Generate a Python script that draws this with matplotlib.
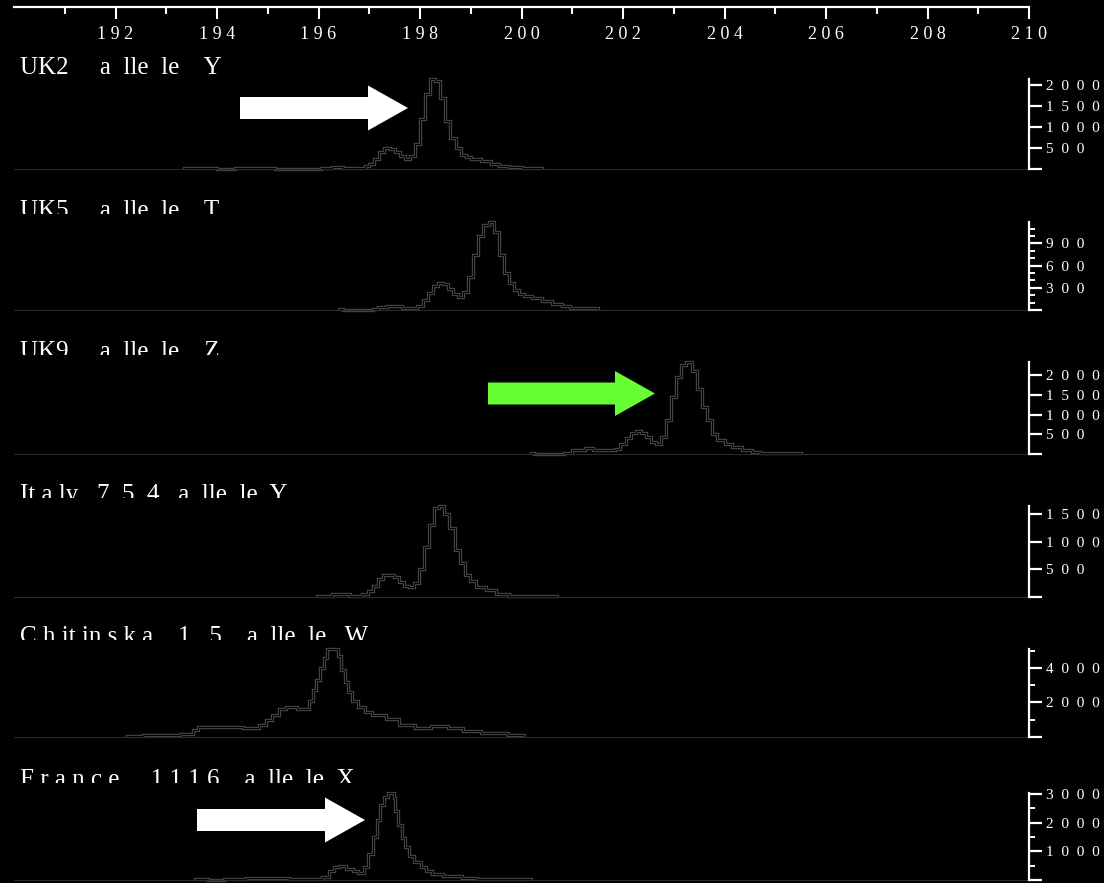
import matplotlib
matplotlib.use("Agg")
import matplotlib.pyplot as plt
import matplotlib.patheffects as pe
from matplotlib.patches import Polygon

# ---- data (size in bp, peak height in rfu) ----
uk2_edges = [193.35, 194.0, 194.35, 195.15, 196.05, 196.27, 196.49, 196.92, 197.0, 197.1, 197.2, 197.3,
             197.4, 197.5, 197.6, 197.7, 197.8, 197.9, 198.0, 198.1, 198.2, 198.3, 198.4, 198.5, 198.6,
             198.7, 198.8, 198.9, 199.0, 199.2, 199.4, 199.55, 199.75, 200.0, 200.4]
uk2_counts = [25, 0, 25, 0, 20, 50, 25, 60, 130, 250, 400, 500, 480, 400, 320, 250, 300, 600, 1200,
              1800, 2150, 2100, 1700, 1150, 750, 500, 340, 280, 240, 190, 130, 80, 50, 30]

uk5_edges = [196.41, 196.49, 197.08, 197.18, 197.34, 197.65, 197.95, 198.05, 198.15, 198.25, 198.35,
             198.45, 198.55, 198.65, 198.75, 198.85, 198.95, 199.05, 199.15, 199.25, 199.35, 199.45,
             199.55, 199.65, 199.75, 199.85, 199.95, 200.05, 200.2, 200.4, 200.6, 200.8, 200.95, 201.5]
uk5_counts = [15, 0, 15, 40, 60, 30, 60, 130, 230, 320, 370, 350, 290, 220, 180, 250, 450, 750, 1000,
              1150, 1190, 1050, 750, 500, 370, 270, 210, 185, 160, 120, 75, 50, 30]

uk9_edges = [200.18, 200.24, 200.83, 200.99, 201.26, 201.40, 201.85, 201.95, 202.05, 202.15, 202.25,
             202.35, 202.45, 202.55, 202.65, 202.75, 202.85, 202.95, 203.05, 203.15, 203.25, 203.35,
             203.45, 203.55, 203.65, 203.75, 203.85, 204.0, 204.15, 204.35, 204.55, 204.7, 205.5]
uk9_counts = [25, 0, 35, 90, 140, 90, 130, 260, 400, 520, 580, 540, 430, 300, 250, 420, 850, 1450,
              1950, 2250, 2330, 2100, 1650, 1200, 850, 500, 350, 260, 170, 100, 55, 25]

italy_edges = [195.98, 196.27, 196.63, 196.86, 196.98, 197.08, 197.18, 197.28, 197.38, 197.48, 197.58,
               197.68, 197.78, 197.88, 197.98, 198.08, 198.18, 198.28, 198.38, 198.48, 198.58, 198.68,
               198.78, 198.88, 198.98, 199.1, 199.3, 199.5, 199.75, 200.7]
italy_counts = [25, 60, 25, 60, 110, 200, 320, 390, 400, 360, 280, 200, 180, 260, 500, 900, 1300, 1620,
                1650, 1500, 1250, 850, 620, 400, 290, 180, 120, 60, 25]

chit_edges = [192.22, 192.54, 193.28, 193.53, 193.63, 194.51, 194.83, 194.97, 195.08, 195.22, 195.36,
              195.57, 195.75, 195.82, 195.89, 195.96, 196.03, 196.10, 196.17, 196.38, 196.45, 196.52,
              196.59, 196.66, 196.77, 196.91, 197.05, 197.33, 197.58, 197.90, 198.21, 198.56, 198.85,
              199.20, 199.73, 200.04]
chit_counts = [60, 115, 190, 400, 560, 500, 700, 1000, 1300, 1600, 1750, 1650, 1600, 2100, 2700, 3300,
               4000, 4600, 5100, 4700, 3900, 3200, 2600, 2100, 1750, 1450, 1250, 1050, 700, 550, 620,
               540, 330, 230, 100]

france_edges = [193.57, 193.83, 194.14, 194.58, 195.42, 196.06, 196.21, 196.31, 196.41, 196.54, 196.67,
                196.77, 196.90, 196.98, 197.08, 197.16, 197.22, 197.30, 197.36, 197.48, 197.51, 197.57,
                197.65, 197.71, 197.79, 197.89, 198.01, 198.11, 198.24, 198.46, 198.82, 199.13, 200.18]
france_counts = [35, 0, 35, 70, 35, 100, 300, 450, 480, 400, 300, 240, 450, 900, 1500, 2100, 2600, 2900,
                 3030, 2850, 2400, 1900, 1450, 1150, 850, 620, 440, 320, 210, 130, 75, 35]

labels = ["UK2     a  lle  le    Y", "UK5     a  lle  le    T", "UK9     a  lle  le    Z",
          "It a ly   7  5  4   a  lle  le  Y", "C h it in s k a    1   5    a  lle  le   W",
          "F r a n c e     1 1 1 6    a  lle  le  X"]
major_ticks = [[0, 500, 1000, 1500, 2000], [0, 300, 600, 900], [0, 500, 1000, 1500, 2000],
               [0, 500, 1000, 1500], [0, 2000, 4000], [0, 1000, 2000, 3000]]
minor_ticks = [[], [100, 200, 400, 500, 700, 800, 1000, 1100], [], [], [1000, 3000, 5000], [500, 1500, 2500]]
size_major = [192, 194, 196, 198, 200, 202, 204, 206, 208, 210]
size_minor = [191, 193, 195, 197, 199, 201, 203, 205, 207, 209]

edges_all = [uk2_edges, uk5_edges, uk9_edges, italy_edges, chit_edges, france_edges]
counts_all = [uk2_counts, uk5_counts, uk9_counts, italy_counts, chit_counts, france_counts]

# ---- layout in pixels ----
W, H = 1104, 883
SERIF = "Liberation Serif"
base_px = [169, 310, 454, 597, 737, 880]
top_px = [79, 222, 362, 506, 649, 793]
label_base = [74, 217, 358, 501, 643, 786]
label_clip = [100, 214, 355, 498, 640, 783]


def fx(px):
    return px / W


def fy(py):
    return 1 - py / H


def spaced(v, sep=" "):
    return sep.join(str(int(round(v))))


fig = plt.figure(figsize=(W / 100, H / 100), dpi=100, facecolor="black")

# top size axis
axx = fig.add_axes([fx(14), fy(7), fx(1029) - fx(14), 0.0001])
axx.set_facecolor("none")
axx.set_xlim(190, 210)
for s in ["top", "left", "right"]:
    axx.spines[s].set_visible(False)
axx.spines["bottom"].set_color("white")
axx.spines["bottom"].set_linewidth(1.6)
axx.set_yticks([])
axx.set_xticks(size_major)
axx.set_xticklabels([spaced(v) for v in size_major], family=SERIF, fontsize=13)
axx.set_xticks(size_minor, minor=True)
axx.tick_params(axis="x", which="major", direction="out", length=8.5, width=1.5, colors="white", pad=5.5)
axx.tick_params(axis="x", which="minor", direction="out", length=5, width=1.5, colors="white")

# panels
for i in range(6):
    b, t = base_px[i], top_px[i]
    ax = fig.add_axes([fx(14), fy(b), fx(1029) - fx(14), (b - t) / H])
    ax.set_facecolor("none")
    ax.set_xlim(190, 210)
    ax.set_ylim(0, max(counts_all[i]))
    for s in ["top", "left", "bottom"]:
        ax.spines[s].set_visible(False)
    ax.spines["right"].set_color("white")
    ax.spines["right"].set_linewidth(1.6)
    ax.xaxis.set_visible(False)
    ax.yaxis.tick_right()
    ax.set_yticks(major_ticks[i])
    ax.set_yticklabels([spaced(v, "  ") if v > 0 else "" for v in major_ticks[i]],
                       family=SERIF, fontsize=11)
    ax.set_yticks(minor_ticks[i], minor=True)
    ax.tick_params(axis="y", which="major", direction="out", length=9.5, width=1.6, colors="white", pad=3)
    ax.tick_params(axis="y", which="minor", direction="out", length=4, width=1.4, colors="white")
    ax.axhline(0, color="#2a2a2a", lw=0.8, clip_on=False)
    ax.stairs(counts_all[i], edges_all[i], color="#464646", lw=2.4, clip_on=False,
              path_effects=[pe.Stroke(linewidth=2.4, foreground="#464646"),
                            pe.Stroke(linewidth=0.8, foreground="black")])

# sample labels (lower part hidden by the panel below, as in the source)
for i in range(6):
    c = label_clip[i]
    tax = fig.add_axes([0, fy(c), 1, 70 / H])
    tax.axis("off")
    tax.text(fx(20), fy(label_base[i]), labels[i], transform=fig.transFigure, family=SERIF,
             fontsize=18, color="white", ha="left", va="baseline", clip_on=True)


# arrows
def arrow(x0, yc, xtip, color):
    hs, hh, hl = 11, 22.5, 40
    pts = [(x0, yc - hs), (xtip - hl, yc - hs), (xtip - hl, yc - hh), (xtip, yc),
           (xtip - hl, yc + hh), (xtip - hl, yc + hs), (x0, yc + hs)]
    fig.patches.append(Polygon([(fx(x), fy(y)) for x, y in pts], closed=True, transform=fig.transFigure,
                               facecolor=color, edgecolor="none", zorder=5))


arrow(240, 108, 408, "white")
arrow(488, 393.5, 655, "#66ff33")
arrow(197, 820, 365, "white")

fig.savefig("out.png", dpi=100, facecolor="black")
